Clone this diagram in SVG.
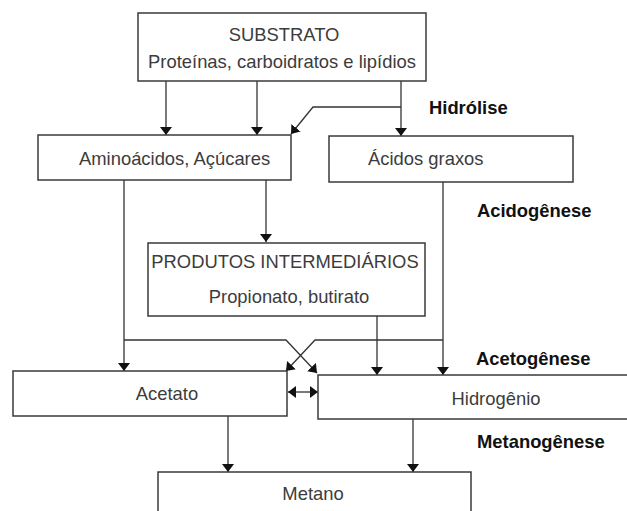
<svg xmlns="http://www.w3.org/2000/svg" width="627" height="511" viewBox="0 0 627 511">
<style>
.box{fill:#fff;stroke:#3a3a3a;stroke-width:1.5}
.t{font-family:"Liberation Sans",Arial,sans-serif;font-size:18.4px;fill:#3c3c3c}
.b{font-family:"Liberation Sans",Arial,sans-serif;font-size:18.4px;font-weight:bold;fill:#111}
.c{fill:none;stroke:#333;stroke-width:1.3}
</style>
<defs>
<marker id="ah" markerUnits="userSpaceOnUse" markerWidth="9" markerHeight="12" refX="8" refY="6" orient="auto">
<path d="M0,0 L8,6 L0,12 z" fill="#111"/>
</marker>
<marker id="as" markerUnits="userSpaceOnUse" markerWidth="9" markerHeight="12" refX="0" refY="6" orient="auto">
<path d="M8,0 L0,6 L8,12 z" fill="#111"/>
</marker>
</defs>
<rect width="627" height="511" fill="#fff"/>
<g id="connectors">
<line class="c" x1="166" y1="81" x2="166" y2="135" marker-end="url(#ah)"/>
<line class="c" x1="257" y1="81" x2="257" y2="135" marker-end="url(#ah)"/>
<line class="c" x1="401" y1="81" x2="401" y2="136" marker-end="url(#ah)"/>
<polyline class="c" points="401,107 313,107 291,134" marker-end="url(#ah)"/>
<line class="c" x1="266" y1="180" x2="266" y2="242" marker-end="url(#ah)"/>
<line class="c" x1="124" y1="180" x2="124" y2="371" marker-end="url(#ah)"/>
<line class="c" x1="443" y1="182" x2="443" y2="375" marker-end="url(#ah)"/>
<line class="c" x1="377" y1="316" x2="377" y2="375" marker-end="url(#ah)"/>
<polyline class="c" points="124,340 286,340 317,373" marker-end="url(#ah)"/>
<polyline class="c" points="443,340 315,340 286,371" marker-end="url(#ah)"/>
<line class="c" x1="288" y1="392" x2="318" y2="392" marker-start="url(#as)" marker-end="url(#ah)"/>
<line class="c" x1="228" y1="416" x2="228" y2="472" marker-end="url(#ah)"/>
<line class="c" x1="413" y1="419" x2="413" y2="472" marker-end="url(#ah)"/>
</g>
<g id="substrato">
<rect class="box" x="138" y="13" width="288" height="68"/>
<text class="t" x="284" y="41" text-anchor="middle">SUBSTRATO</text>
<text class="t" x="282" y="68" text-anchor="middle">Proteínas, carboidratos e lipídios</text>
</g>
<g id="aminoacidos">
<rect class="box" x="38" y="135" width="253" height="45"/>
<text class="t" x="79" y="165">Aminoácidos, Açúcares</text>
</g>
<g id="acidos">
<rect class="box" x="329" y="136" width="244" height="46"/>
<text class="t" x="368" y="165">Ácidos graxos</text>
</g>
<g id="produtos">
<rect class="box" x="148" y="243" width="277" height="73"/>
<text class="t" x="285" y="268" text-anchor="middle">PRODUTOS INTERMEDIÁRIOS</text>
<text class="t" x="289" y="303" text-anchor="middle">Propionato, butirato</text>
</g>
<g id="acetato">
<rect class="box" x="13" y="371" width="274" height="45"/>
<text class="t" x="167" y="400" text-anchor="middle">Acetato</text>
</g>
<g id="hidrogenio">
<rect class="box" x="318" y="375" width="330" height="44"/>
<text class="t" x="496" y="405" text-anchor="middle">Hidrogênio</text>
</g>
<g id="metano">
<rect class="box" x="158" y="472" width="313" height="60"/>
<text class="t" x="313" y="500" text-anchor="middle">Metano</text>
</g>
<g id="labels">
<text class="b" x="429" y="114">Hidrólise</text>
<text class="b" x="477" y="217">Acidogênese</text>
<text class="b" x="476" y="365">Acetogênese</text>
<text class="b" x="477" y="448">Metanogênese</text>
</g>
</svg>
